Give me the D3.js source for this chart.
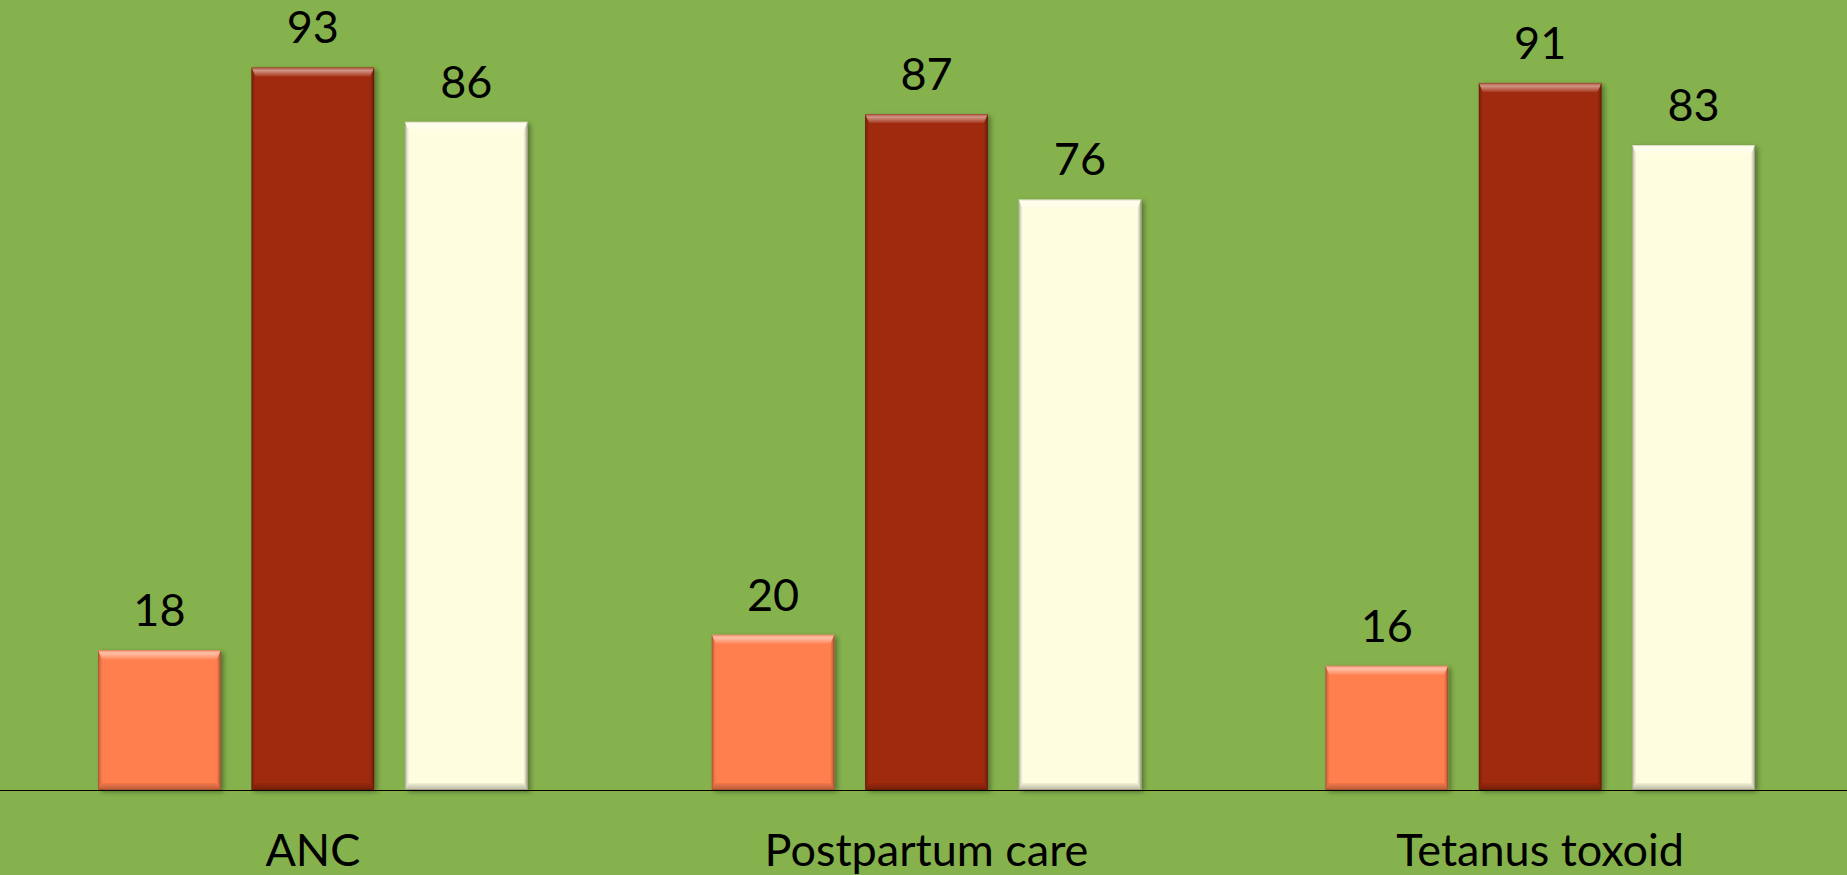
<!DOCTYPE html>
<html>
<head>
<meta charset="utf-8">
<script src="https://cdn.jsdelivr.net/npm/d3@7"></script>
<style>
  html, body { margin: 0; padding: 0; background: #86b24d; }
  svg { display: block; }
  .value, .cat { font-family: Lato, "Open Sans", sans-serif; fill: #000; }
</style>
</head>
<body>
<div id="chart"></div>
<script>

// categories along the x axis
var categories = ["ANC", "Postpartum care", "Tetanus toxoid"]

// one array per series (three bars in each group)
var seriesA = [18, 20, 16]
var seriesB = [93, 87, 91]
var seriesC = [86, 76, 83]

var seriesNames = ["a", "b", "c"]
var seriesColors = ["#ff7f50", "#a0290a", "#fffde0"]

var width = 1847
var height = 875

var margin = { top: 13, right: 0, bottom: 85, left: 6 }

var svg = d3.select("#chart").append("svg")
    .attr("width", width)
    .attr("height", height)

svg.append("rect")
    .attr("width", width)
    .attr("height", height)
    .attr("fill", "#86b24d")

var defs = svg.append("defs")

var shadow = defs.append("filter")
    .attr("id", "shadow")
    .attr("x", "-10%").attr("y", "-10%")
    .attr("width", "130%").attr("height", "130%")

shadow.append("feDropShadow")
    .attr("dx", 3)
    .attr("dy", 2)
    .attr("stdDeviation", 2.5)
    .attr("flood-color", "#000")
    .attr("flood-opacity", 0.35)

// top bevel gradient, light at the edge fading inward
var topGrad = defs.append("linearGradient")
    .attr("id", "bevelTop")
    .attr("x1", 0).attr("y1", 0).attr("x2", 0).attr("y2", 1)
topGrad.append("stop").attr("offset", "0%").attr("stop-color", "#fff").attr("stop-opacity", 0.2)
topGrad.append("stop").attr("offset", "35%").attr("stop-color", "#fff").attr("stop-opacity", 0.5)
topGrad.append("stop").attr("offset", "100%").attr("stop-color", "#fff").attr("stop-opacity", 0.08)

var botGrad = defs.append("linearGradient")
    .attr("id", "bevelBottom")
    .attr("x1", 0).attr("y1", 0).attr("x2", 0).attr("y2", 1)
botGrad.append("stop").attr("offset", "0%").attr("stop-color", "#000").attr("stop-opacity", 0.05)
botGrad.append("stop").attr("offset", "100%").attr("stop-color", "#000").attr("stop-opacity", 0.28)

var leftGrad = defs.append("linearGradient")
    .attr("id", "bevelLeft")
    .attr("x1", 0).attr("y1", 0).attr("x2", 1).attr("y2", 0)
leftGrad.append("stop").attr("offset", "0%").attr("stop-color", "#000").attr("stop-opacity", 0.25)
leftGrad.append("stop").attr("offset", "100%").attr("stop-color", "#000").attr("stop-opacity", 0.02)

var rightGrad = defs.append("linearGradient")
    .attr("id", "bevelRight")
    .attr("x1", 0).attr("y1", 0).attr("x2", 1).attr("y2", 0)
rightGrad.append("stop").attr("offset", "0%").attr("stop-color", "#000").attr("stop-opacity", 0.02)
rightGrad.append("stop").attr("offset", "100%").attr("stop-color", "#000").attr("stop-opacity", 0.32)

var x0 = d3.scaleBand()
    .domain(categories)
    .range([margin.left, width - margin.right])
    .paddingInner(0.3)
    .paddingOuter(0.15)

var x1 = d3.scaleBand()
    .domain(seriesNames)
    .range([0, x0.bandwidth()])
    .paddingInner(0.2)

var y = d3.scaleLinear()
    .domain([0, 100])
    .range([height - margin.bottom, margin.top])

var rows = categories.map(function(c, i) {
    return {
        category: c,
        values: [
            { key: "a", value: seriesA[i], color: seriesColors[0] },
            { key: "b", value: seriesB[i], color: seriesColors[1] },
            { key: "c", value: seriesC[i], color: seriesColors[2] }
        ]
    }
})

var groups = svg.selectAll(".group")
    .data(rows)
    .enter()
    .append("g")
    .attr("class", "group")
    .attr("transform", d => `translate(${x0(d.category)},0)`)

var bars = groups.selectAll(".bar")
    .data(d => d.values)
    .enter()
    .append("g")
    .attr("class", "bar")

bars.append("rect")
    .attr("x", d => x1(d.key))
    .attr("y", d => y(d.value))
    .attr("width", x1.bandwidth())
    .attr("height", d => y(0) - y(d.value))
    .attr("fill", d => d.color)
    .attr("filter", "url(#shadow)")

// bevel edges
var bt = 9, bs = 4, bb = 7

function pts(arr) {
    return arr.map(p => p.join(",")).join(" ")
}

bars.append("polygon")
    .attr("points", function(d) {
        var l = x1(d.key), r = l + x1.bandwidth(), t = y(d.value)
        return pts([[l, t], [r, t], [r - bs, t + bt], [l + bs, t + bt]])
    })
    .attr("fill", "url(#bevelTop)")

bars.append("polygon")
    .attr("points", function(d) {
        var l = x1(d.key), r = l + x1.bandwidth(), b = y(0)
        return pts([[l + bs, b - bb], [r - bs, b - bb], [r, b], [l, b]])
    })
    .attr("fill", "url(#bevelBottom)")

bars.append("polygon")
    .attr("points", function(d) {
        var l = x1(d.key), t = y(d.value), b = y(0)
        return pts([[l, t], [l + bs, t + bt], [l + bs, b - bb], [l, b]])
    })
    .attr("fill", "url(#bevelLeft)")

bars.append("polygon")
    .attr("points", function(d) {
        var r = x1(d.key) + x1.bandwidth(), t = y(d.value), b = y(0)
        return pts([[r, t], [r, b], [r - bs, b - bb], [r - bs, t + bt]])
    })
    .attr("fill", "url(#bevelRight)")

// thin edge line
bars.append("rect")
    .attr("x", d => x1(d.key) + 0.5)
    .attr("y", d => y(d.value) + 0.5)
    .attr("width", x1.bandwidth() - 1)
    .attr("height", d => y(0) - y(d.value) - 1)
    .attr("fill", "none")
    .attr("stroke", "#000")
    .attr("stroke-opacity", 0.12)

bars.append("text")
    .attr("class", "value")
    .attr("x", d => x1(d.key) + x1.bandwidth() / 2)
    .attr("y", d => y(d.value) - 24)
    .attr("text-anchor", "middle")
    .style("font-size", "45px")
    .text(d => d.value)

// baseline across the whole width
svg.append("line")
    .attr("x1", 0)
    .attr("x2", width)
    .attr("y1", y(0) + 0.5)
    .attr("y2", y(0) + 0.5)
    .attr("stroke", "#000")
    .attr("stroke-width", 1.2)

svg.selectAll(".cat")
    .data(categories)
    .enter()
    .append("text")
    .attr("class", "cat")
    .attr("x", d => x0(d) + x0.bandwidth() / 2)
    .attr("y", y(0) + 76)
    .attr("text-anchor", "middle")
    .style("font-size", "45px")
    .text(d => d)

</script>
</body>
</html>
